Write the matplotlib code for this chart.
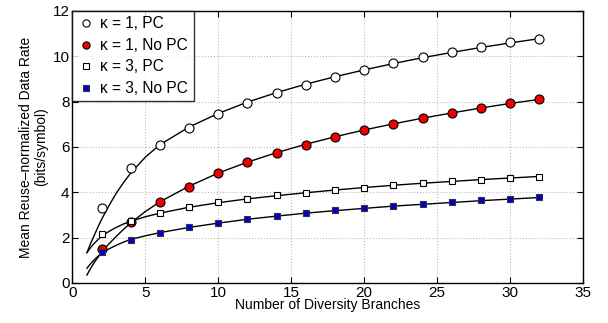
import matplotlib
matplotlib.use("Agg")
import matplotlib.pyplot as plt

plt.rcParams['font.family'] = ['Liberation Sans', 'DejaVu Sans']

# marker data (diversity branches 2..32)
branches = [2, 4, 6, 8, 10, 12, 14, 16, 18, 20, 22, 24, 26, 28, 30, 32]
k1_pc = [3.32, 5.05, 6.1, 6.85, 7.45, 7.95, 8.4, 8.75, 9.1, 9.4, 9.7, 9.97, 10.19, 10.41, 10.62, 10.78]
k1_nopc = [1.5, 2.7, 3.55, 4.25, 4.85, 5.35, 5.75, 6.1, 6.45, 6.75, 7.0, 7.28, 7.5, 7.72, 7.92, 8.1]
k3_pc = [2.15, 2.75, 3.1, 3.35, 3.55, 3.72, 3.86, 3.99, 4.1, 4.21, 4.33, 4.42, 4.49, 4.54, 4.63, 4.68]
k3_nopc = [1.35, 1.9, 2.2, 2.45, 2.65, 2.82, 2.96, 3.1, 3.2, 3.3, 3.41, 3.49, 3.57, 3.64, 3.71, 3.78]

# fitted curves
fit_x = [1, 1.25, 1.5, 1.75, 2, 2.5, 3, 3.5, 4, 5, 6, 8, 10, 12, 14, 16, 18, 20, 22, 24, 26, 28, 30, 32]
fit_k1_pc = [1.34, 1.74, 2.1, 2.46, 2.8, 3.4, 3.95, 4.42, 4.85, 5.55, 6.1, 6.88, 7.48, 7.98, 8.4, 8.77, 9.1, 9.4, 9.68, 9.94, 10.17, 10.39, 10.59, 10.78]
fit_k1_nopc = [0.35, 0.64, 0.9, 1.13, 1.35, 1.72, 2.05, 2.36, 2.65, 3.15, 3.58, 4.27, 4.85, 5.33, 5.75, 6.12, 6.45, 6.75, 7.02, 7.27, 7.5, 7.72, 7.92, 8.1]
fit_k3_pc = [1.34, 1.56, 1.75, 1.91, 2.05, 2.27, 2.45, 2.6, 2.72, 2.92, 3.08, 3.34, 3.54, 3.71, 3.85, 3.98, 4.1, 4.21, 4.31, 4.4, 4.48, 4.56, 4.63, 4.7]
fit_k3_nopc = [0.65, 0.85, 1.02, 1.17, 1.3, 1.5, 1.66, 1.8, 1.92, 2.08, 2.22, 2.45, 2.64, 2.81, 2.95, 3.08, 3.19, 3.29, 3.39, 3.47, 3.55, 3.63, 3.7, 3.77]

fig = plt.figure(figsize=(6.08, 3.23), dpi=100)
ax = fig.add_axes([0.119, 0.124, 0.840, 0.842])

for fy in [fit_k1_pc, fit_k1_nopc, fit_k3_pc, fit_k3_nopc]:
    ax.plot(fit_x, fy, color='black', lw=1.0, zorder=2)

ax.plot(branches, k1_pc, 'o', ms=6.5, mfc='white', mec='black', mew=0.8, label=u'\u03ba = 1, PC', zorder=3)
ax.plot(branches, k1_nopc, 'o', ms=6.5, mfc='#ee0000', mec='black', mew=0.8, label=u'\u03ba = 1, No PC', zorder=3)
ax.plot(branches, k3_pc, 's', ms=5, mfc='white', mec='black', mew=0.8, label=u'\u03ba = 3, PC', zorder=3)
ax.plot(branches, k3_nopc, 's', ms=5, mfc='#0000cc', mec='#333333', mew=0.8, label=u'\u03ba = 3, No PC', zorder=3)

ax.set_xlim(0, 35)
ax.set_ylim(0, 12)
ax.set_xticks(range(0, 36, 5))
ax.set_yticks(range(0, 13, 2))
ax.grid(True, color='#bbbbbb', linestyle=':', lw=0.8)
ax.tick_params(direction='in', labelsize=11, length=4, top=True, right=True, pad=2)
for s in ax.spines.values():
    s.set_linewidth(1.0)

ax.set_xlabel('Number of Diversity Branches', fontsize=10, labelpad=-1)
ax.set_ylabel('Mean Reuse\u2013normalized Data Rate\n(bits/symbol)', fontsize=10, labelpad=3, linespacing=1.1)

leg = ax.legend(loc='upper left', fontsize=11.2, frameon=True, fancybox=False,
                edgecolor='black', borderaxespad=0, handlelength=1.0,
                handletextpad=0.45, labelspacing=0.42, borderpad=0.35, markerscale=0.8)
leg.get_frame().set_linewidth(1.0)

fig.savefig('out.png', dpi=100)
